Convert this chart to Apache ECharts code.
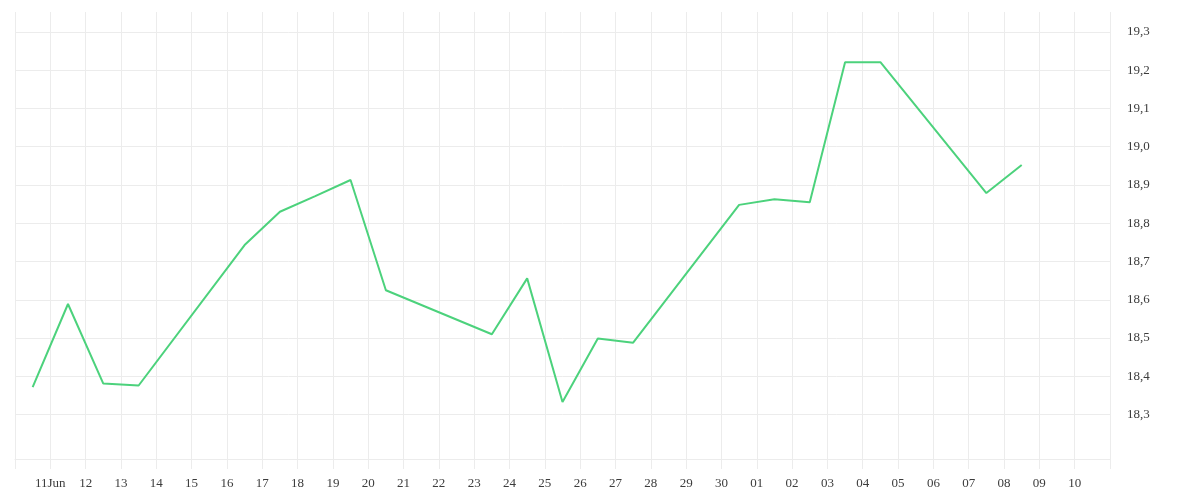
<!DOCTYPE html>
<html>
<head>
<meta charset="utf-8">
<script src="https://cdn.jsdelivr.net/npm/echarts@6/dist/echarts.min.js"></script>
<style>
  html, body { margin: 0; padding: 0; background: #ffffff; }
  #chart { width: 1200px; height: 500px; }
</style>
</head>
<body>
<div id="chart"></div>
<script>
// ---- data ----
const dates = [
  '2025-06-10', '2025-06-11', '2025-06-12', '2025-06-13',
  '2025-06-16', '2025-06-17', '2025-06-18', '2025-06-19', '2025-06-20',
  '2025-06-23', '2025-06-24', '2025-06-25', '2025-06-26', '2025-06-27',
  '2025-06-30', '2025-07-01', '2025-07-02', '2025-07-03', '2025-07-04',
  '2025-07-07', '2025-07-08'
];
const values = [
  18.372, 18.589, 18.381, 18.376,
  18.743, 18.830, 18.871, 18.913, 18.625,
  18.510, 18.656, 18.333, 18.499, 18.488,
  18.848, 18.863, 18.855, 19.221, 19.221,
  18.879, 18.952
];
const xAxisStart = '2025-06-10';
const xAxisEnd = '2025-07-11';
const monthNames = ['Jan','Feb','Mar','Apr','May','Jun','Jul','Aug','Sep','Oct','Nov','Dec'];
const yMin = 18.184;
const yMax = 19.352;
const yStep = 0.1;
const yFirstLabel = 18.3;

// ---- chart ----
const DAY = 86400000;
const toTime = (d, h) => Date.parse(d + 'T' + (h || '00') + ':00:00Z');
const seriesData = dates.map((d, i) => [toTime(d, '12'), values[i]]);
const xMin = toTime(xAxisStart);
const xMax = toTime(xAxisEnd);
const firstLabelTime = xMin + DAY;

const gridColor = '#ececec';
const clear = 'rgba(0,0,0,0)';
const labelFont = 'Liberation Serif';

const chart = echarts.init(document.getElementById('chart'), null, { renderer: 'canvas' });
chart.setOption({
  useUTC: true,
  animation: false,
  backgroundColor: '#ffffff',
  grid: { left: 15, right: 90, top: 12, bottom: 41, containLabel: false },
  xAxis: {
    type: 'time',
    min: xMin,
    max: xMax,
    splitNumber: 31,
    minInterval: DAY,
    maxInterval: DAY,
    axisLine: { show: true, lineStyle: { color: gridColor, width: 1 } },
    axisTick: { show: true, length: 10, lineStyle: { color: gridColor, width: 1 } },
    splitLine: { show: true, lineStyle: { color: gridColor, width: 1 } },
    axisLabel: {
      show: true,
      margin: 18,
      color: '#3c3c3c',
      fontFamily: labelFont,
      fontSize: 13,
      hideOverlap: false,
      formatter: function (value) {
        if (value <= xMin + 1000 || value >= xMax - 1000) return '';
        const d = new Date(value);
        const day = String(d.getUTCDate()).padStart(2, '0');
        if (Math.abs(value - firstLabelTime) < 1000) {
          return day + monthNames[d.getUTCMonth()];
        }
        return day;
      }
    }
  },
  yAxis: {
    type: 'value',
    position: 'right',
    min: yMin,
    max: yMax,
    splitNumber: 12,
    minInterval: yStep,
    maxInterval: yStep,
    axisLine: { show: false },
    axisTick: { show: false },
    splitLine: {
      show: true,
      lineStyle: {
        // ticks: min, 18.2, 18.3 ... 19.3, max
        color: [gridColor, clear, gridColor, gridColor, gridColor, gridColor, gridColor,
                gridColor, gridColor, gridColor, gridColor, gridColor, gridColor, clear],
        width: 1
      }
    },
    axisLabel: {
      show: true,
      showMinLabel: false,
      showMaxLabel: false,
      margin: 17,
      align: 'left',
      padding: [5, 0, 0, 0],
      color: '#3c3c3c',
      fontFamily: labelFont,
      fontSize: 13,
      formatter: function (v) {
        if (v < yFirstLabel - 0.01 || v > yMax - 0.01) return '';
        return v.toFixed(1).replace('.', ',');
      }
    }
  },
  series: [{
    type: 'line',
    data: seriesData,
    showSymbol: false,
    symbol: 'none',
    lineStyle: { color: '#4cd27c', width: 2 },
    itemStyle: { color: '#4cd27c' }
  }]
});
</script>
</body>
</html>
